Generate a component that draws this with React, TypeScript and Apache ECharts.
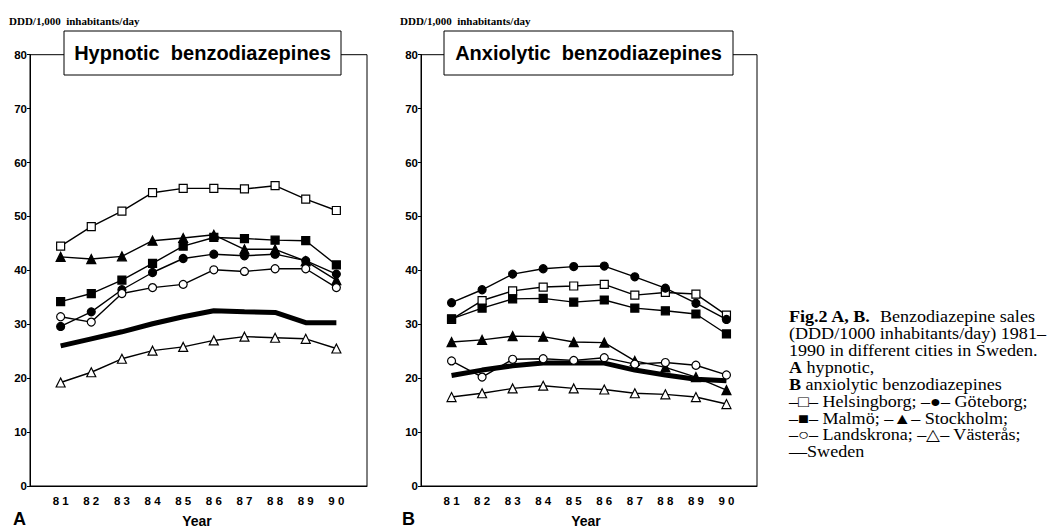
import React, { useEffect, useRef } from "react";
import * as echarts from "echarts";

const years = [81, 82, 83, 84, 85, 86, 87, 88, 89, 90];
const cityNames = ["Helsingborg", "Göteborg", "Malmö", "Stockholm", "Landskrona", "Västerås", "Sweden"];

const hypHelsingborg = [44.5, 48.1, 51.0, 54.4, 55.2, 55.2, 55.1, 55.7, 53.2, 51.1];
const hypGoteborg = [29.6, 32.3, 36.4, 39.6, 42.2, 43.0, 42.7, 43.0, 41.8, 39.3];
const hypMalmo = [34.2, 35.7, 38.2, 41.3, 44.5, 46.1, 45.9, 45.6, 45.5, 41.0];
const hypStockholm = [42.5, 42.1, 42.6, 45.5, 46.0, 46.6, 43.9, 43.9, 41.7, 38.2];
const hypLandskrona = [31.4, 30.4, 35.7, 36.8, 37.4, 40.1, 39.8, 40.3, 40.3, 36.8];
const hypVasteras = [19.2, 21.1, 23.6, 25.1, 25.8, 27.0, 27.7, 27.5, 27.3, 25.5];
const hypSweden = [26.0, 27.3, 28.6, 30.1, 31.4, 32.5, 32.3, 32.2, 30.3, 30.3];

const anxHelsingborg = [30.9, 34.4, 36.2, 36.9, 37.1, 37.4, 35.4, 35.9, 35.6, 31.7];
const anxGoteborg = [34.0, 36.4, 39.3, 40.3, 40.7, 40.8, 38.8, 36.7, 33.9, 30.9];
const anxMalmo = [31.0, 33.0, 34.7, 34.8, 34.1, 34.5, 33.0, 32.5, 31.9, 28.2];
const anxStockholm = [26.7, 27.1, 27.8, 27.7, 26.7, 26.6, 23.2, 22.0, 20.2, 17.8];
const anxLandskrona = [23.2, 20.2, 23.5, 23.6, 23.3, 23.8, 22.6, 22.9, 22.4, 20.6];
const anxVasteras = [16.5, 17.2, 18.1, 18.6, 18.1, 17.9, 17.2, 17.0, 16.5, 15.2];
const anxSweden = [20.5, 21.5, 22.3, 22.8, 22.8, 22.8, 21.5, 20.6, 19.8, 19.5];

const hypData = [hypHelsingborg, hypGoteborg, hypMalmo, hypStockholm, hypLandskrona, hypVasteras, hypSweden];
const anxData = [anxHelsingborg, anxGoteborg, anxMalmo, anxStockholm, anxLandskrona, anxVasteras, anxSweden];

const panelTitles = ["Hypnotic  benzodiazepines", "Anxiolytic  benzodiazepines"];
const panelLetters = ["A", "B"];
const yUnit = "DDD/1,000  inhabitants/day";
const xName = "Year";

const captionLines = [
  "{b|Fig.2 A, B.}  Benzodiazepine sales",
  "(DDD/1000 inhabitants/day) 1981–",
  "1990 in different cities in Sweden.",
  "{b|A} hypnotic,",
  "{b|B} anxiolytic benzodiazepines",
  "–□– Helsingborg; –●– Göteborg;",
  "–■– Malmö; –▲– Stockholm;",
  "–○– Landskrona; –△– Västerås;",
  "—Sweden",
];

// symbol, filled, size
const styles: [string, boolean, number][] = [
  ["rect", false, 8],
  ["circle", true, 8],
  ["rect", true, 8],
  ["triangle", true, 9],
  ["circle", false, 8],
  ["triangle", false, 9],
  ["none", true, 0],
];

const SANS = "'Liberation Sans', Arial, Helvetica, sans-serif";
const SERIF = "'Liberation Serif', 'Times New Roman', serif";

export default function App() {
  const ref = useRef<HTMLDivElement>(null);
  useEffect(() => {
    if (!ref.current) return;
    const chart = echarts.init(ref.current, undefined, { renderer: "svg" });

    const grids = [
      { left: 30, top: 54.7, width: 337, height: 431.3 },
      { left: 421, top: 54.7, width: 336, height: 431.3 },
    ];

    const series: any[] = [];
    [hypData, anxData].forEach((panel, gi) => {
      panel.forEach((vals, si) => {
        const [sym, filled, size] = styles[si];
        const isSweden = sym === "none";
        series.push({
          type: "line",
          name: cityNames[si],
          xAxisIndex: gi,
          yAxisIndex: gi,
          data: years.map((yr, i) => [yr, vals[i]]),
          symbol: sym,
          symbolSize: size,
          showSymbol: !isSweden,
          lineStyle: { color: "#000", width: isSweden ? 5 : 1.4 },
          itemStyle: {
            color: filled ? "#000" : "#fff",
            borderColor: "#000",
            borderWidth: 1.2,
          },
          z: isSweden ? 2 : 3,
        });
      });
    });

    const xAxes = grids.map((_, gi) => ({
      type: "value",
      gridIndex: gi,
      min: 80,
      max: 91,
      interval: 1,
      splitLine: { show: false },
      axisTick: { show: false },
      axisLine: { show: true, lineStyle: { color: "#000", width: 1 } },
      axisLabel: {
        color: "#000",
        fontFamily: SANS,
        fontWeight: "bold",
        fontSize: 11.5,
        margin: 9,
        formatter: (v: number) => (years.includes(v) ? String(v).split("").join(" ") : ""),
      },
    }));

    const yAxes = grids.map((_, gi) => ({
      type: "value",
      gridIndex: gi,
      min: 0,
      max: 80,
      interval: 10,
      splitLine: { show: false },
      axisTick: { show: true, length: 3, lineStyle: { color: "#000" } },
      axisLine: { show: true, lineStyle: { color: "#000", width: 1 } },
      axisLabel: {
        color: "#000",
        fontFamily: SANS,
        fontWeight: "bold",
        fontSize: 11.5,
        margin: 3,
      },
    }));

    const graphic: any[] = [];
    const panelX = [9, 400];
    const boxes = [
      { x: 64, w: 277 },
      { x: 444, w: 289 },
    ];
    const yearX = [197, 586];
    const letterX = [13, 402];
    [0, 1].forEach((gi) => {
      graphic.push({
        type: "text",
        x: panelX[gi],
        y: 21,
        z: 100,
        style: {
          text: yUnit,
          font: `bold 11px ${SERIF}`,
          fill: "#000",
          textVerticalAlign: "middle",
          verticalAlign: "middle",
        },
      });
      graphic.push({
        type: "rect",
        z: 100,
        shape: { x: boxes[gi].x, y: 31, width: boxes[gi].w, height: 44 },
        style: { fill: "#fff", stroke: "#000", lineWidth: 1 },
      });
      graphic.push({
        type: "text",
        z: 101,
        x: boxes[gi].x + boxes[gi].w / 2,
        y: 53,
        style: {
          text: panelTitles[gi],
          font: `bold 20px ${SANS}`,
          fill: "#000",
          textAlign: "center",
          align: "center",
          textVerticalAlign: "middle",
          verticalAlign: "middle",
        },
      });
      graphic.push({
        type: "text",
        z: 101,
        x: letterX[gi],
        y: 519,
        style: {
          text: panelLetters[gi],
          font: `bold 18px ${SANS}`,
          fill: "#000",
          textVerticalAlign: "middle",
          verticalAlign: "middle",
        },
      });
      graphic.push({
        type: "text",
        z: 101,
        x: yearX[gi],
        y: 521,
        style: {
          text: xName,
          font: `bold 14px ${SANS}`,
          fill: "#000",
          textAlign: "center",
          align: "center",
          textVerticalAlign: "middle",
          verticalAlign: "middle",
        },
      });
    });

    captionLines.forEach((line, i) => {
      graphic.push({
        type: "text",
        z: 101,
        x: 789,
        y: 317 + i * 16.9,
        scaleX: 1.13,
        style: {
          text: line,
          font: `16px ${SERIF}`,
          fill: "#000",
          textVerticalAlign: "middle",
          verticalAlign: "middle",
          rich: {
            b: { fontFamily: SERIF, fontWeight: "bold", fontSize: 16, fill: "#000" },
          },
        },
      });
    });

    chart.setOption({
      animation: false,
      backgroundColor: "#fff",
      grid: grids.map((g) => ({ ...g, show: true, borderColor: "#000", borderWidth: 1, backgroundColor: "transparent" })),
      xAxis: xAxes,
      yAxis: yAxes,
      series,
      graphic,
    });

    return () => chart.dispose();
  }, []);

  return (
    <div
      ref={ref}
      style={{ position: "absolute", left: 0, top: 0, width: 1054, height: 528, background: "#fff" }}
    />
  );
}
